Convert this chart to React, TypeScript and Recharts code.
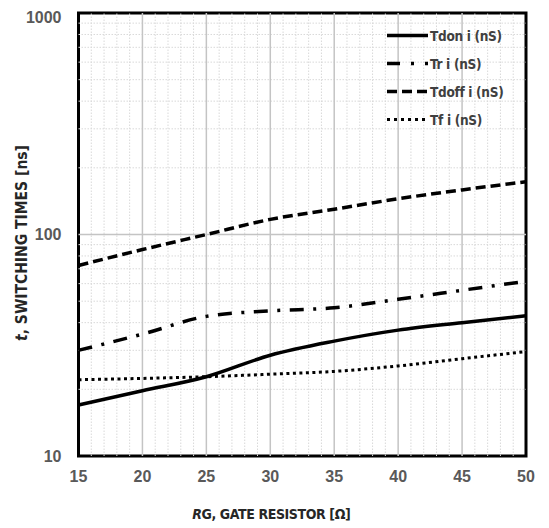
import { CartesianGrid, Legend, Line, LineChart, ReferenceArea, ReferenceLine, XAxis, YAxis } from 'recharts'

const gateResistor = [15, 20, 25, 30, 35, 40, 45, 50]
const tdon = [17, 19.7, 22.8, 28.5, 33, 37, 40, 43]
const tr = [30, 35.5, 42.7, 45.2, 46.7, 51, 56, 61.5]
const tdoff = [72.5, 85.5, 100, 117, 130, 145, 159, 173]
const tf = [22.1, 22.4, 22.8, 23.4, 24.1, 25.5, 27.5, 29.6]

const xTicks = [15, 20, 25, 30, 35, 40, 45, 50]
const xMinor = [16, 17, 18, 19, 21, 22, 23, 24, 26, 27, 28, 29, 31, 32, 33, 34, 36, 37, 38, 39, 41, 42, 43, 44, 46, 47, 48, 49]
const yTicks = [10, 100, 1000]
const yMinor = [20, 30, 40, 50, 60, 70, 80, 90, 200, 300, 400, 500, 600, 700, 800, 900]

const data = gateResistor.map((x, i) => ({ x, tdon: tdon[i], tr: tr[i], tdoff: tdoff[i], tf: tf[i] }))

const series = [
  { key: 'tdon', name: 'Tdon i (nS)', dash: undefined, legendDash: undefined, width: 3.5 },
  { key: 'tr', name: 'Tr i (nS)', dash: '14 9.5 3 9.5', legendDash: '13 11 3 11 3', width: 3.5 },
  { key: 'tdoff', name: 'Tdoff i (nS)', dash: '10 5', legendDash: '10 5', width: 3.5 },
  { key: 'tf', name: 'Tf i (nS)', dash: '3 3.5', legendDash: '3 4', width: 3 },
]

const font = '"Liberation Sans", Arial, sans-serif'
const narrow = '"DejaVu Sans Condensed", "Liberation Sans", Arial, sans-serif'
const tickStyle = { fill: '#595959', fontSize: 16, fontWeight: 700, fontFamily: font }

function LegendBox() {
  return (
    <svg width={130} height={108}>
      {series.map((s, i) => (
        <g key={s.key}>
          <line x1={3} x2={44} y1={10.5 + i * 28} y2={10.5 + i * 28} stroke='#000' strokeWidth={s.width} strokeDasharray={s.legendDash} />
          <text x={46} y={10.5 + i * 28} dominantBaseline='central' fontFamily={narrow} fontSize={13.5} fontWeight={700} fill='#404040' letterSpacing={-0.3}>
            {s.name}
          </text>
        </g>
      ))}
    </svg>
  )
}

export default function App() {
  return (
    <LineChart width={541} height={520} data={data} margin={{ top: 5, right: 23, left: 0, bottom: 0 }}>
      <CartesianGrid stroke='none' />
      {xMinor.map((v) => (
        <ReferenceLine key={'xm' + v} x={v} stroke='#d9d9d9' strokeDasharray='1.5 1.5' />
      ))}
      {yMinor.map((v) => (
        <ReferenceLine key={'ym' + v} y={v} stroke='#d9d9d9' strokeDasharray='1.5 1.5' />
      ))}
      {xTicks.slice(1, -1).map((v) => (
        <ReferenceLine key={'xM' + v} x={v} stroke='#c4c4c4' strokeWidth={1.5} />
      ))}
      <ReferenceLine y={100} stroke='#c4c4c4' strokeWidth={1.5} />
      <XAxis
        dataKey='x'
        type='number'
        domain={[15, 50]}
        ticks={xTicks}
        height={72}
        tickSize={0}
        tickMargin={15}
        axisLine={false}
        tick={tickStyle}
        label={(props: any) => {
          const vb = props.viewBox
          return (
            <text x={vb.x + vb.width / 2 - 31} y={vb.y + 63} textAnchor='middle' fontFamily={narrow} fontSize={14} fontWeight={700} fill='#262626' letterSpacing={-0.4}>
              <tspan fontStyle='italic'>R</tspan>G, GATE RESISTOR [Ω]
            </text>
          )
        }}
      />
      <YAxis
        type='number'
        scale='log'
        domain={[10, 1000]}
        ticks={yTicks}
        width={70.5}
        tickSize={0}
        tickMargin={17}
        axisLine={false}
        allowDataOverflow
        tick={tickStyle}
        label={(props: any) => {
          const vb = props.viewBox
          const cx = vb.x + 13.5
          const cy = vb.y + vb.height / 2 + 8.5
          return (
            <text x={cx} y={cy} transform={`rotate(-90 ${cx} ${cy})`} textAnchor='middle' dominantBaseline='central' fontFamily={narrow} fontSize={15.5} fontWeight={700} fill='#262626'>
              <tspan fontStyle='italic'>t</tspan>, SWITCHING TIMES [ns]
            </text>
          )
        }}
      />
      {series.map((s) => (
        <Line
          key={s.key}
          type='monotone'
          dataKey={s.key}
          name={s.name}
          stroke='#000'
          strokeWidth={s.width}
          strokeDasharray={s.dash}
          dot={false}
          activeDot={false}
          isAnimationActive={false}
        />
      ))}
      <ReferenceArea x1={15} x2={50} y1={10} y2={1000} fill='none' stroke='#000' strokeWidth={3} />
      <Legend
        layout='vertical'
        align='center'
        verticalAlign='middle'
        wrapperStyle={{ left: 376, top: 17, width: 130 }}
        content={() => <LegendBox />}
      />
    </LineChart>
  )
}
